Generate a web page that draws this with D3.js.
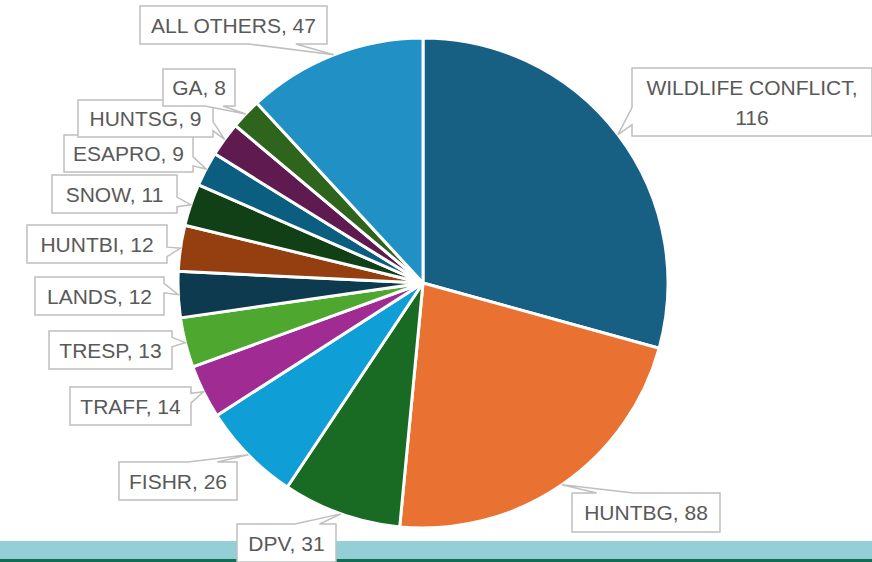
<!DOCTYPE html>
<html>
<head>
<meta charset="utf-8">
<script src="https://cdn.jsdelivr.net/npm/d3@7"></script>
<style>
  html, body { margin:0; padding:0; background:#fff; }
  svg { display:block; }
</style>
</head>
<body>
<svg id="chart" width="872" height="562"></svg>
<script>
// data
var categories = ['WILDLIFE CONFLICT','HUNTBG','DPV','FISHR','TRAFF','TRESP','LANDS','HUNTBI','SNOW','ESAPRO','HUNTSG','GA','ALL OTHERS'];
var counts = [116, 88, 31, 26, 14, 13, 12, 12, 11, 9, 9, 8, 47];
var colors = ['#176083','#E97132','#196B24','#0F9ED5','#A02B93','#4EA72E','#0E3A50','#953F10','#114016','#0B5E80','#5F1A50','#2E641B','#2190C5'];

// callout boxes (left, top, width, height)
var labelBoxes = [
  [632, 68, 240, 68],
  [572, 493, 148, 39],
  [237, 524, 99, 38],
  [119, 462, 118, 38],
  [70, 387, 121, 38],
  [49, 331, 123, 38],
  [35, 277, 129, 38],
  [27, 225, 140, 38],
  [52, 175, 125, 38],
  [64, 135, 129, 37],
  [78, 100, 135, 37],
  [163, 69, 72, 37],
  [140, 6, 187, 38]
];

var W = 872, H = 562;
var cx = 423, cy = 283, R = 245;

var svg = d3.select('#chart');

// bottom bands
svg.append('rect').attr('x',0).attr('y',541).attr('width',W).attr('height',18).attr('fill','#95CFD6');
svg.append('rect').attr('x',0).attr('y',559).attr('width',W).attr('height',3).attr('fill','#0F6E53');

var rows = categories.map(function(c,i){ return {name:c, value:counts[i], color:colors[i], box:labelBoxes[i]}; });

var pie = d3.pie().sort(null).value(function(d){ return d.value; });
var arcs = pie(rows);
var arc = d3.arc().innerRadius(0).outerRadius(R);

var g = svg.append('g').attr('transform','translate('+cx+','+cy+')');
g.selectAll('path.slice')
  .data(arcs)
  .enter().append('path')
  .attr('class','slice')
  .attr('d', arc)
  .attr('fill', function(d){ return d.data.color; })
  .attr('stroke','#fff')
  .attr('stroke-width',3)
  .attr('stroke-linejoin','round');

// callout shape like excel wedgeRectCallout
function calloutPath(b, tx, ty){
  var l=b[0], t=b[1], w=b[2], h=b[3], r=l+w, bt=t+h;
  var hc=l+w/2, vc=t+h/2;
  var dx=tx-hc, dy=ty-vc;
  var dq=dx*h/w;
  var x1=l+w*(dx>0?7:2)/12, x2=l+w*(dx>0?10:5)/12;
  var y1=t+h*(dy>0?7:2)/12, y2=t+h*(dy>0?10:5)/12;
  var edge;
  if (Math.abs(dy)-Math.abs(dq)>0) edge = dy>0 ? 'b' : 't';
  else edge = dx>0 ? 'r' : 'l';
  var p = d3.path();
  p.moveTo(l,t);
  if(edge==='t'){ p.lineTo(x1,t); p.lineTo(tx,ty); p.lineTo(x2,t); }
  p.lineTo(r,t);
  if(edge==='r'){ p.lineTo(r,y1); p.lineTo(tx,ty); p.lineTo(r,y2); }
  p.lineTo(r,bt);
  if(edge==='b'){ p.lineTo(x2,bt); p.lineTo(tx,ty); p.lineTo(x1,bt); }
  p.lineTo(l,bt);
  if(edge==='l'){ p.lineTo(l,y2); p.lineTo(tx,ty); p.lineTo(l,y1); }
  p.closePath();
  return p.toString();
}

var labels = svg.append('g').attr('class','labels');
arcs.forEach(function(d){
  var a = (d.startAngle+d.endAngle)/2;
  var tx = cx + R*Math.sin(a), ty = cy - R*Math.cos(a);
  var b = d.data.box;
  var lg = labels.append('g');
  lg.append('path')
    .attr('d', calloutPath(b, tx, ty))
    .attr('fill','#fff')
    .attr('stroke','#BFBFBF')
    .attr('stroke-width',1.5);
  var txt = lg.append('text')
    .attr('x', b[0]+b[2]/2)
    .attr('text-anchor','middle')
    .attr('font-family','Liberation Sans, Arial, sans-serif')
    .attr('font-size',21)
    .attr('fill','#595959');
  var lines = d.data.name==='WILDLIFE CONFLICT' ? [d.data.name+',', String(d.data.value)] : [d.data.name+', '+d.data.value];
  var lh = 30;
  var y0 = b[1]+b[3]/2 - (lines.length-1)*lh/2 + 7.5;
  lines.forEach(function(s,i){
    txt.append('tspan').attr('x', b[0]+b[2]/2).attr('y', y0+i*lh).text(s);
  });
});
</script>
</body>
</html>
